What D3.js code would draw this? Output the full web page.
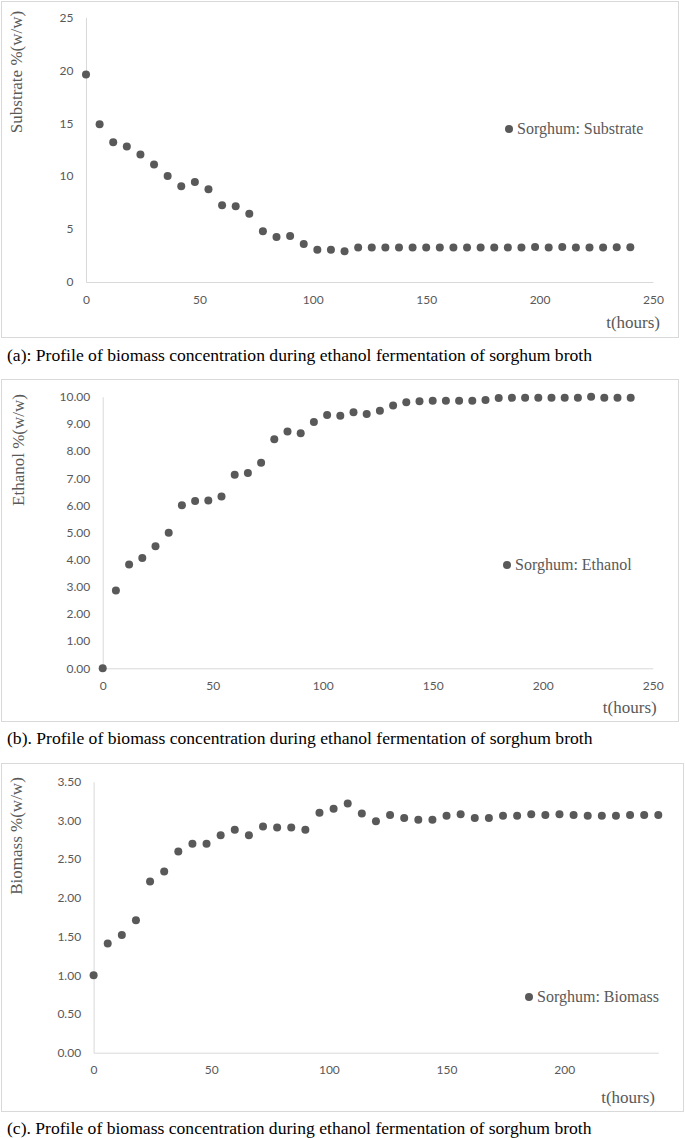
<!DOCTYPE html>
<html>
<head>
<meta charset="utf-8">
<script src="https://cdn.jsdelivr.net/npm/d3@7"></script>
<style>
  body { margin: 0; background: #fff; }
  svg { display: block; }
  .tick text { font-family: Lato, "Open Sans", sans-serif; font-size: 12px; fill: #595959; }
  .domain { stroke: #d9d9d9; }
</style>
</head>
<body>
<svg id="chart" width="685" height="1138"></svg>
<script>
// sampling times, hours
var hours = [0, 6, 12, 18, 24, 30, 36, 42, 48, 54, 60, 66, 72, 78, 84, 90, 96, 102, 108, 114,
             120, 126, 132, 138, 144, 150, 156, 162, 168, 174, 180, 186, 192, 198, 204, 210, 216,
             222, 228, 234, 240];

var substrate = [19.6, 14.9, 13.2, 12.8, 12.05, 11.1, 10.0, 9.05, 9.45, 8.75, 7.25, 7.15, 6.45,
                 4.8, 4.25, 4.35, 3.6, 3.05, 3.05, 2.9, 3.27, 3.27, 3.27, 3.27, 3.27, 3.27, 3.27,
                 3.27, 3.27, 3.27, 3.27, 3.27, 3.27, 3.3, 3.27, 3.3, 3.27, 3.27, 3.27, 3.28, 3.28];

var ethanol = [0.0, 2.86, 3.82, 4.06, 4.49, 4.99, 6.0, 6.16, 6.18, 6.33, 7.13, 7.19, 7.57, 8.43,
               8.72, 8.65, 9.07, 9.33, 9.3, 9.43, 9.36, 9.48, 9.68, 9.8, 9.83, 9.85, 9.85, 9.85,
               9.85, 9.88, 9.95, 9.96, 9.96, 9.96, 9.96, 9.96, 9.96, 10.0, 9.96, 9.96, 9.96];

var biomass = [1.0, 1.41, 1.52, 1.71, 2.21, 2.34, 2.6, 2.7, 2.7, 2.81, 2.88, 2.81, 2.92, 2.91,
               2.91, 2.88, 3.1, 3.15, 3.22, 3.09, 2.99, 3.07, 3.03, 3.01, 3.01, 3.06, 3.08, 3.03,
               3.03, 3.06, 3.06, 3.08, 3.07, 3.08, 3.07, 3.06, 3.06, 3.06, 3.07, 3.07, 3.07];

var xTicksAB = [0, 50, 100, 150, 200, 250];
var xTicksC = [0, 50, 100, 150, 200];
var substrateTicks = [0, 5, 10, 15, 20, 25];
var ethanolTicks = [0, 1, 2, 3, 4, 5, 6, 7, 8, 9, 10];
var biomassTicks = [0, 0.5, 1, 1.5, 2, 2.5, 3, 3.5];

var svg = d3.select("#chart");
var grey = "#595959";
var serif = "'Liberation Serif', 'Times New Roman', serif";

function drawPanel(p) {
  // outer frame
  svg.append("rect")
      .attr("x", p.box[0] + 0.5).attr("y", p.box[1] + 0.5)
      .attr("width", p.box[2] - p.box[0]).attr("height", p.box[3] - p.box[1])
      .attr("fill", "none").attr("stroke", "#d9d9d9");

  var x = d3.scaleLinear().domain(p.xDomain).range([p.left, p.right]);
  var y = d3.scaleLinear().domain(p.yDomain).range([p.bottom, p.top]);

  svg.append("g")
      .attr("transform", "translate(0," + p.bottom + ")")
      .call(d3.axisBottom(x).tickValues(p.xTicks).tickSize(0).tickPadding(13).tickFormat(d3.format("d")));

  svg.append("g")
      .attr("transform", "translate(" + p.left + ",0)")
      .call(d3.axisLeft(y).tickValues(p.yTicks).tickSize(0).tickPadding(12.5).tickFormat(d3.format(p.yFormat)));

  svg.append("g").selectAll("circle")
      .data(p.values)
    .enter().append("circle")
      .attr("cx", function(d, i) { return x(hours[i]); })
      .attr("cy", function(d) { return y(d); })
      .attr("r", 4)
      .attr("fill", grey);

  // y title
  svg.append("text")
      .attr("transform", "translate(" + p.titlePos[0] + "," + p.titlePos[1] + ") rotate(-90)")
      .attr("text-anchor", "middle")
      .attr("dy", "0.35em")
      .style("font-family", serif).style("font-size", "17px")
      .attr("fill", grey)
      .text(p.yTitle);

  // x title
  svg.append("text")
      .attr("x", p.xTitlePos[0]).attr("y", p.xTitlePos[1])
      .attr("text-anchor", "end")
      .attr("dy", "0.35em")
      .style("font-family", serif).style("font-size", "17px")
      .attr("fill", grey)
      .text("t(hours)");

  // legend
  svg.append("circle")
      .attr("cx", p.legendPos[0]).attr("cy", p.legendPos[1])
      .attr("r", 4).attr("fill", grey);
  svg.append("text")
      .attr("x", p.legendPos[0] + 8).attr("y", p.legendPos[1])
      .attr("dy", "0.33em")
      .style("font-family", serif).style("font-size", "16px")
      .attr("fill", grey)
      .text(p.legend);

  // caption
  svg.append("text")
      .attr("x", 7).attr("y", p.captionY)
      .attr("dy", "0.33em")
      .style("font-family", serif).style("font-size", "17.6px")
      .attr("fill", "#000")
      .text(p.caption);
}

drawPanel({
  box: [1, 1, 678, 337], left: 86, right: 653, top: 17.3, bottom: 282,
  xDomain: [0, 250], yDomain: [0, 25], xTicks: xTicksAB, yTicks: substrateTicks, yFormat: "d",
  values: substrate, yTitle: "Substrate %(w/w)", titlePos: [16, 72],
  xTitlePos: [660, 321.7], legendPos: [509, 129], legend: "Sorghum: Substrate",
  captionY: 355, caption: "(a): Profile of biomass concentration during ethanol fermentation of sorghum broth"
});

drawPanel({
  box: [1, 379, 678, 721], left: 102.7, right: 652.7, top: 396.7, bottom: 668.3,
  xDomain: [0, 250], yDomain: [0, 10], xTicks: xTicksAB, yTicks: ethanolTicks, yFormat: ".2f",
  values: ethanol, yTitle: "Ethanol %(w/w)", titlePos: [18, 450],
  xTitlePos: [656.7, 706.7], legendPos: [507, 565], legend: "Sorghum: Ethanol",
  captionY: 738, caption: "(b). Profile of biomass concentration during ethanol fermentation of sorghum broth"
});

drawPanel({
  box: [1, 763, 683, 1111], left: 93.6, right: 658.3, top: 781.7, bottom: 1052.7,
  xDomain: [0, 240], yDomain: [0, 3.5], xTicks: xTicksC, yTicks: biomassTicks, yFormat: ".2f",
  values: biomass, yTitle: "Biomass %(w/w)", titlePos: [16, 836],
  xTitlePos: [655, 1096.7], legendPos: [529, 997], legend: "Sorghum: Biomass",
  captionY: 1128, caption: "(c). Profile of biomass concentration during ethanol fermentation of sorghum broth"
});
</script>
</body>
</html>
